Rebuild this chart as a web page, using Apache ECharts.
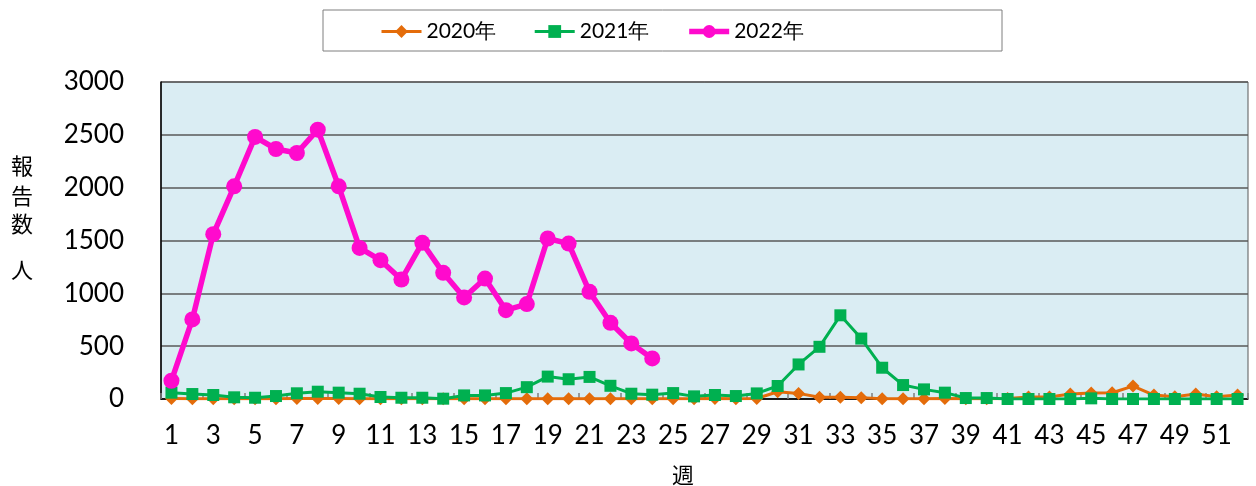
<!DOCTYPE html>
<html>
<head>
<meta charset="utf-8">
<script src="https://cdn.jsdelivr.net/npm/echarts@6/dist/echarts.min.js"></script>
<style>
html,body{margin:0;padding:0;background:#fff;}
#chart{width:1256px;height:486px;}
</style>
</head>
<body>
<div id="chart"></div>
<script>
// ---- data ----
var weeks = [];
for (var w = 1; w <= 52; w++) weeks.push(String(w));

var seriesNames = ['2020年', '2021年', '2022年'];

var data2020 = [4, 3, 3, 2, 2, 3, 4, 5, 4, 3, 2, 2, 3, 2, 2, 3, 2, 2, 2, 2,
                3, 2, 2, 2, 3, 3, 4, 3, 5, 69, 53, 16, 16, 13, 3, 3, 3, 5, 2, 2,
                5, 19, 19, 47, 56, 59, 122, 37, 22, 47, 22, 37];

var data2021 = [60, 47, 38, 16, 12, 28, 54, 69, 60, 50, 19, 12, 12, 3, 34, 34, 56, 112, 212, 187,
                209, 125, 50, 41, 56, 25, 38, 28, 53, 123, 327, 494, 792, 572, 296, 132, 91, 60, 9, 9,
                0, 0, 0, 0, 6, 0, 0, 0, 0, 0, 0, 0];

var data2022 = [173, 753, 1560, 2013, 2480, 2366, 2328, 2549, 2013, 1430, 1314, 1131, 1478, 1194, 961, 1140, 841, 898, 1519, 1471,
                1014, 721, 526, 384];

var yTicks = { min: 0, max: 3000, interval: 500 };

var colors = ['#E46C0A', '#00B050', '#FF0ACD'];
var lineWidths = [3, 3, 5.5];
var FONT = 'Lato';
var CJK = '22px "Noto Sans CJK JP"';

var chart = echarts.init(document.getElementById('chart'), null, { renderer: 'canvas' });

var option = {
  animation: false,
  backgroundColor: '#ffffff',
  textStyle: { fontFamily: FONT, color: '#000' },
  grid: {
    left: 161, right: 8, top: 82, bottom: 87,
    show: true,
    backgroundColor: '#DAEDF3',
    borderColor: '#595959',
    borderWidth: 1
  },
  legend: {
    left: 380,
    top: 21,
    padding: 0,
    itemWidth: 40,
    itemHeight: 16,
    itemGap: 37,
    textStyle: { fontFamily: FONT, fontSize: 21, color: '#000' },
    data: seriesNames.map(function (n, i) {
      return { name: n, lineStyle: { width: lineWidths[i] } };
    })
  },
  graphic: [
    {
      type: 'rect',
      shape: { x: 323, y: 10, width: 679, height: 41 },
      style: { fill: 'none', stroke: '#7f7f7f', lineWidth: 1 },
      z: -1
    },
    { type: 'text', style: { text: '報', font: CJK, fill: '#000', x: 22, y: 166, align: 'center', verticalAlign: 'middle' } },
    { type: 'text', style: { text: '告', font: CJK, fill: '#000', x: 22, y: 196, align: 'center', verticalAlign: 'middle' } },
    { type: 'text', style: { text: '数', font: CJK, fill: '#000', x: 22, y: 224, align: 'center', verticalAlign: 'middle' } },
    { type: 'text', style: { text: '人', font: CJK, fill: '#000', x: 22, y: 270, align: 'center', verticalAlign: 'middle' } },
    { type: 'text', style: { text: '週', font: CJK, fill: '#000', x: 683, y: 475, align: 'center', verticalAlign: 'middle' } }
  ],
  xAxis: {
    type: 'category',
    data: weeks,
    boundaryGap: true,
    axisLine: { show: true, lineStyle: { color: '#000', width: 1.5 } },
    axisTick: { show: true, inside: true, length: 6, lineStyle: { color: '#7f7f7f', width: 1.5 } },
    axisLabel: { interval: 1, margin: 24, fontFamily: FONT, fontSize: 26, color: '#000' },
    splitLine: { show: false }
  },
  yAxis: {
    type: 'value',
    min: yTicks.min, max: yTicks.max, interval: yTicks.interval,
    axisLine: { show: true, lineStyle: { color: '#000', width: 1.5 } },
    axisTick: { show: false },
    axisLabel: { margin: 37, fontFamily: FONT, fontSize: 26, color: '#000',
      formatter: function (v) { return String(v); } },
    splitLine: { show: true, lineStyle: { color: '#595959', width: 1.5 } }
  },
  series: [
    {
      name: seriesNames[0], type: 'line', data: data2020,
      symbol: 'diamond', symbolSize: 13, showSymbol: true, showAllSymbol: true,
      lineStyle: { color: colors[0], width: lineWidths[0] },
      itemStyle: { color: colors[0] },
      z: 2
    },
    {
      name: seriesNames[1], type: 'line', data: data2021,
      symbol: 'rect', symbolSize: 12, showSymbol: true, showAllSymbol: true,
      lineStyle: { color: colors[1], width: lineWidths[1] },
      itemStyle: { color: colors[1] },
      z: 3
    },
    {
      name: seriesNames[2], type: 'line', data: data2022,
      symbol: 'circle', symbolSize: 16, showSymbol: true, showAllSymbol: true,
      lineStyle: { color: colors[2], width: lineWidths[2] },
      itemStyle: { color: colors[2] },
      z: 4
    }
  ]
};
chart.setOption(option);
</script>
</body>
</html>
